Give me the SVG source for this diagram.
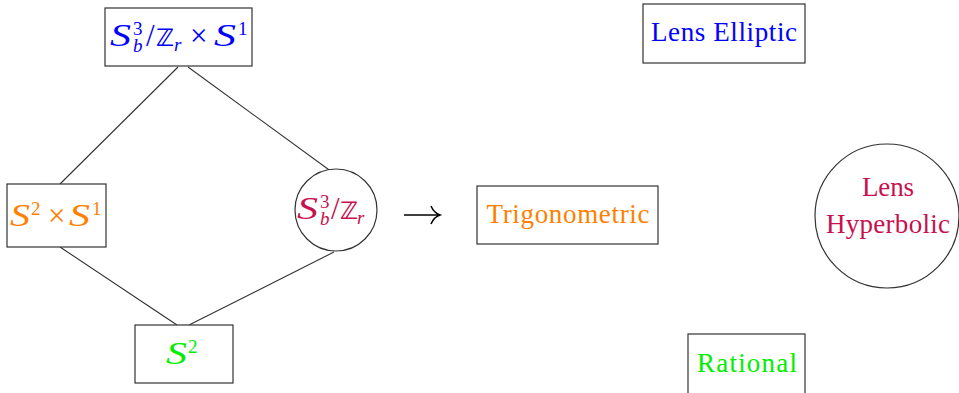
<svg xmlns="http://www.w3.org/2000/svg" width="959" height="393" viewBox="0 0 959 393">
<style>
.box{fill:#fff;stroke:#333;stroke-width:1.2}
.edge{stroke:#333;stroke-width:1.1;fill:none}
.t{font-family:"Liberation Serif","DejaVu Serif",serif;font-size:27px}
.m{font-family:"Liberation Serif","DejaVu Serif",serif;font-size:31px}
.S{font-style:italic}
.sup{font-size:19px}
.sub{font-size:19px;font-style:italic}
.bb{font-family:"DejaVu Sans",sans-serif;font-weight:bold;font-size:24px}
.blue{fill:#0000ff}.orange{fill:#ff8000}.mag{fill:#c8104f}.green{fill:#00ee00}
</style>
<g id="connectors">
<line class="edge" x1="178" y1="67" x2="60" y2="184"/>
<line class="edge" x1="188" y1="67" x2="332" y2="172"/>
<line class="edge" x1="60" y1="247" x2="177" y2="325"/>
<line class="edge" x1="334" y1="252" x2="189" y2="325"/>
</g>
<g id="n1" class="blue">
<rect class="box" x="105" y="8" width="147" height="58"/>
<text class="m S" x="110" y="46" textLength="21" lengthAdjust="spacingAndGlyphs">S</text>
<text class="m" y="46"><tspan class="sup" x="133" y="35">3</tspan><tspan class="sub" x="133" y="52">b</tspan><tspan x="146" y="46">/</tspan><tspan class="bb" x="156" y="46">ℤ</tspan><tspan class="sub" x="174" y="51">r</tspan><tspan x="190" y="46">×</tspan></text>
<text class="m S" x="214" y="46" textLength="22" lengthAdjust="spacingAndGlyphs">S</text>
<text class="m sup" x="238" y="35">1</text>
</g>
<g id="n2" class="orange">
<rect class="box" x="7" y="184" width="99" height="63"/>
<text class="m S" x="10" y="226" textLength="20" lengthAdjust="spacingAndGlyphs">S</text>
<text class="m" y="226"><tspan class="sup" x="31" y="215">2</tspan><tspan x="48" y="226">×</tspan></text>
<text class="m S" x="69" y="226" textLength="21" lengthAdjust="spacingAndGlyphs">S</text>
<text class="m sup" x="92" y="215">1</text>
</g>
<g id="n3" class="mag">
<circle cx="336" cy="210" r="41" fill="#fff" stroke="#333" stroke-width="1.2"/>
<text class="m S" x="297" y="219" textLength="21" lengthAdjust="spacingAndGlyphs">S</text>
<text class="m" y="219"><tspan class="sup" x="320" y="208">3</tspan><tspan class="sub" x="320" y="225">b</tspan><tspan x="331" y="219">/</tspan><tspan class="bb" x="340" y="219">ℤ</tspan><tspan class="sub" x="357" y="224">r</tspan></text>
</g>
<g id="n4" class="green">
<rect class="box" x="135" y="325" width="98" height="58"/>
<text class="m S" x="166" y="364" textLength="21" lengthAdjust="spacingAndGlyphs">S</text>
<text class="m sup" x="188" y="353">2</text>
</g>
<g id="arrow">
<path d="M404 215 H439 M431 206 Q434 213 440 215 Q434 217 431 224" fill="none" stroke="#000" stroke-width="1.5"/>
</g>
<g id="trig">
<rect class="box" x="477" y="186" width="181" height="58"/>
<text class="t orange" x="568" y="223" text-anchor="middle" textLength="163">Trigonometric</text>
</g>
<g id="elliptic">
<rect class="box" x="643" y="4" width="162" height="59"/>
<text class="t blue" x="724" y="41" text-anchor="middle" textLength="146">Lens Elliptic</text>
</g>
<g id="hyperbolic">
<circle cx="887" cy="216" r="72" fill="#fff" stroke="#333" stroke-width="1.2"/>
<text class="t mag" x="888" y="196" text-anchor="middle" textLength="52">Lens</text>
<text class="t mag" x="888" y="233" text-anchor="middle" textLength="124">Hyperbolic</text>
</g>
<g id="rational">
<rect class="box" x="688" y="334" width="117" height="60"/>
<text class="t green" x="747" y="372" text-anchor="middle" textLength="100">Rational</text>
</g>
</svg>
